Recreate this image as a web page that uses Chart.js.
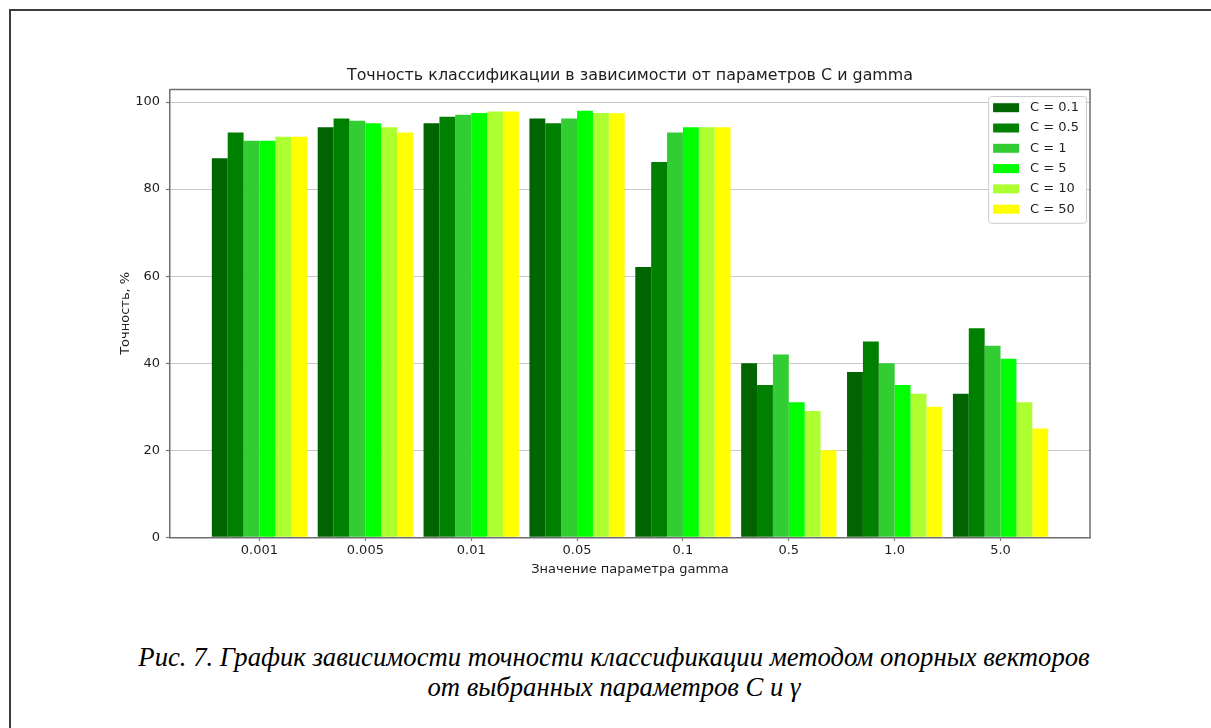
<!DOCTYPE html>
<html lang="ru">
<head>
<meta charset="utf-8">
<title>Точность классификации SVM</title>
<script src="https://cdn.jsdelivr.net/npm/chart.js@4.4.1/dist/chart.umd.min.js"></script>
<style>
  html, body { margin: 0; padding: 0; background: #fff; width: 1211px; height: 728px; overflow: hidden; }
  #frame { position: absolute; left: 9px; top: 9px; width: 1300px; height: 800px;
           border-left: 2px solid #3c3c3c; border-top: 2px solid #3c3c3c; }
  #wrap { position: absolute; left: 0; top: 0; width: 1211px; height: 590px; }
  #caption { position: absolute; left: 0; top: 641.5px; width: 1228px; text-align: center;
             font-family: "Liberation Serif", "Times New Roman", serif; font-style: italic;
             font-size: 26.7px; line-height: 30.7px; color: #000; }
</style>
</head>
<body>
<div id="frame"></div>
<div id="wrap"><canvas id="chart"></canvas></div>
<div id="caption">Рис. 7. График зависимости точности классификации методом опорных векторов<br>от выбранных параметров C и γ</div>
<script>
// gamma values on the x axis
const gammaLabels = ['0.001', '0.005', '0.01', '0.05', '0.1', '0.5', '1.0', '5.0'];
// accuracy (%) for each C value, one entry per gamma
const accC01  = [87.1, 94.2, 95.1, 96.2, 62.1, 40, 38, 33];
const accC05  = [93.0, 96.2, 96.6, 95.1, 86.2, 35, 45, 48];
const accC1   = [91.1, 95.7, 97.1, 96.2, 93.0, 42, 40, 44];
const accC5   = [91.1, 95.1, 97.5, 98.0, 94.2, 31, 35, 41];
const accC10  = [92.0, 94.2, 97.8, 97.5, 94.2, 29, 33, 31];
const accC50  = [92.0, 93.0, 97.8, 97.4, 94.2, 20, 30, 25];
const seriesNames = ['C = 0.1', 'C = 0.5', 'C = 1', 'C = 5', 'C = 10', 'C = 50'];
const seriesColors = ['#006400', '#008000', '#32cd32', '#00ff00', '#adff2f', '#ffff00'];
const yTicks = [0, 20, 40, 60, 80, 100];

const seriesValues = [accC01, accC05, accC1, accC5, accC10, accC50];
const datasets = seriesValues.map((vals, k) => ({
  label: seriesNames[k],
  data: vals.map((v, i) => ({ x: i, y: v })),
  backgroundColor: seriesColors[k],
  borderWidth: 0,
  categoryPercentage: 0.9,
  barPercentage: 1.0
}));

const FONT = 'DejaVu Sans';
const TEXT = '#1e1e1e';
const SPINE = '#6e6e6e';

// closes the axes box on the top and right sides
const boxPlugin = {
  id: 'axesBox',
  afterDatasetsDraw(chart) {
    const { ctx, chartArea: a } = chart;
    ctx.save();
    ctx.strokeStyle = SPINE;
    ctx.lineWidth = 1.5;
    ctx.beginPath();
    ctx.moveTo(a.left, a.top);
    ctx.lineTo(a.right, a.top);
    ctx.lineTo(a.right, a.bottom);
    ctx.stroke();
    ctx.restore();
  }
};

// legend drawn inside the upper-right corner of the plot area
const innerLegend = {
  id: 'innerLegend',
  afterDraw(chart) {
    const { ctx, chartArea: a } = chart;
    const sets = chart.data.datasets;
    ctx.save();
    ctx.font = '13px "' + FONT + '"';
    const textW = Math.max(...sets.map(d => ctx.measureText(d.label).width));
    const rowH = 20.3, patchW = 26, patchH = 9;
    const w = 5 + patchW + 11 + textW + 7;
    const h = rowH * sets.length + 5;
    const x0 = a.right - 4 - w, y0 = a.top + 6.6;
    ctx.fillStyle = 'rgba(255,255,255,0.85)';
    ctx.strokeStyle = '#cccccc';
    ctx.lineWidth = 1;
    ctx.beginPath();
    ctx.roundRect(x0 + 0.5, y0 + 0.5, w, h, 3);
    ctx.fill();
    ctx.stroke();
    sets.forEach((d, i) => {
      const cy = y0 + 11.7 + i * rowH;
      ctx.fillStyle = d.backgroundColor;
      ctx.fillRect(x0 + 5, cy - patchH / 2, patchW, patchH);
      ctx.fillStyle = TEXT;
      ctx.textBaseline = 'middle';
      ctx.textAlign = 'left';
      ctx.fillText(d.label, x0 + 5 + patchW + 11, cy);
    });
    ctx.restore();
  }
};

new Chart(document.getElementById('chart'), {
  type: 'bar',
  data: { datasets },
  plugins: [boxPlugin, innerLegend],
  options: {
    responsive: true,
    maintainAspectRatio: false,
    animation: false,
    layout: { padding: { left: 0, top: 0, right: 121, bottom: 0 } },
    plugins: {
      legend: { display: false },
      tooltip: { enabled: false },
      title: {
        display: true,
        text: 'Точность классификации в зависимости от параметров C и gamma',
        fullSize: false,
        color: TEXT,
        font: { family: FONT, size: 15.9, weight: 'normal', lineHeight: 1.2 },
        padding: { top: 66.46, bottom: 3.86 }
      }
    },
    scales: {
      x: {
        type: 'linear',
        offset: false,
        min: -0.845,
        max: 7.845,
        afterBuildTicks(axis) { axis.ticks = gammaLabels.map((_, i) => ({ value: i })); },
        afterFit(axis) { axis.height = 52.7; },
        ticks: {
          autoSkip: false,
          maxRotation: 0,
          padding: 2.4,
          color: TEXT,
          font: { family: FONT, size: 13 },
          callback: (v) => gammaLabels[v]
        },
        grid: { display: true, offset: false, drawOnChartArea: false, drawTicks: true, tickLength: 3.5, tickColor: SPINE, tickWidth: 1.2 },
        border: { display: true, color: SPINE, width: 1.5 },
        title: {
          display: true,
          text: 'Значение параметра gamma',
          color: TEXT,
          font: { family: FONT, size: 13, lineHeight: 1.2 },
          padding: { top: 0, bottom: 12.2 }
        }
      },
      y: {
        min: 0,
        max: 102.9,
        afterBuildTicks(axis) { axis.ticks = yTicks.map(v => ({ value: v })); },
        afterFit(axis) { axis.width = 170; },
        ticks: {
          padding: 6,
          color: TEXT,
          font: { family: FONT, size: 13 }
        },
        grid: { display: true, drawOnChartArea: true, color: '#c8c8c8', lineWidth: 1, drawTicks: true, tickLength: 4, tickColor: SPINE, tickWidth: 1.2 },
        border: { display: true, color: SPINE, width: 1.5 },
        title: {
          display: true,
          text: 'Точность, %',
          color: TEXT,
          font: { family: FONT, size: 13, lineHeight: 1.2 },
          padding: { top: 118.2, bottom: 0 }
        }
      }
    }
  }
});
</script>
</body>
</html>
